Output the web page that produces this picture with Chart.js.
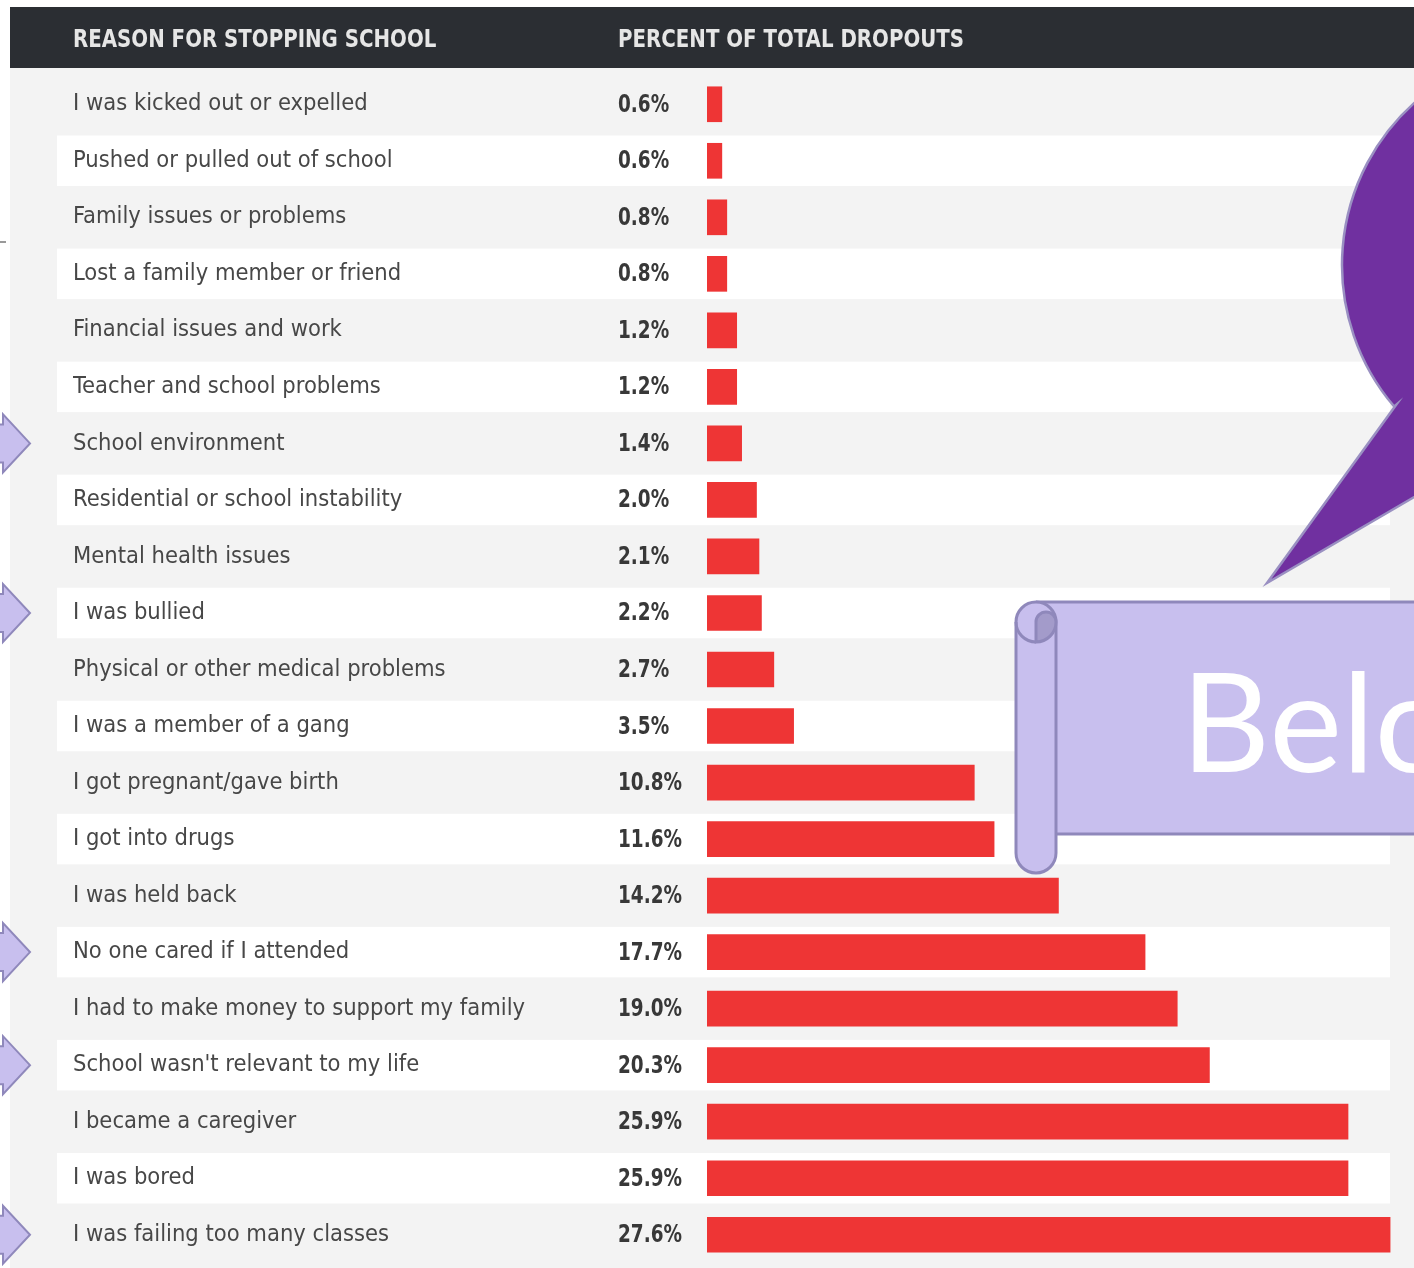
<!DOCTYPE html>
<html>
<head>
<meta charset="utf-8">
<script src="https://cdn.jsdelivr.net/npm/chart.js@4.4.1/dist/chart.umd.min.js"></script>
<style>
  html, body { margin: 0; padding: 0; background: #ffffff; }
  #wrap { width: 1414px; height: 1268px; position: relative; }
  canvas { display: block; }
</style>
</head>
<body>
<div id="wrap"><canvas id="c" width="1414" height="1268"></canvas></div>
<script>
// Reasons for leaving school and their share of all dropouts (%)
const reasons = [
  "I was kicked out or expelled",
  "Pushed or pulled out of school",
  "Family issues or problems",
  "Lost a family member or friend",
  "Financial issues and work",
  "Teacher and school problems",
  "School environment",
  "Residential or school instability",
  "Mental health issues",
  "I was bullied",
  "Physical or other medical problems",
  "I was a member of a gang",
  "I got pregnant/gave birth",
  "I got into drugs",
  "I was held back",
  "No one cared if I attended",
  "I had to make money to support my family",
  "School wasn't relevant to my life",
  "I became a caregiver",
  "I was bored",
  "I was failing too many classes"
];
const percents = [0.6, 0.6, 0.8, 0.8, 1.2, 1.2, 1.4, 2.0, 2.1, 2.2, 2.7, 3.5, 10.8, 11.6, 14.2, 17.7, 19.0, 20.3, 25.9, 25.9, 27.6];
const columnHeaders = ["REASON FOR STOPPING SCHOOL", "PERCENT OF TOTAL DROPOUTS"];
const calloutText = "Below";
// rows picked out with arrow markers
const highlighted = ["School environment", "I was bullied", "No one cared if I attended", "School wasn't relevant to my life", "I was failing too many classes"];

const NARROW = "'Liberation Sans Narrow', 'DejaVu Sans Condensed', 'Roboto', sans-serif";
const RED = '#ee3535';
const LAV = '#c8bfee';
const LAV_EDGE = '#8f88bb';

// draw text squeezed horizontally to imitate a condensed face
function condensedText(ctx, text, x, y, squeeze) {
  ctx.save();
  ctx.translate(x, y);
  ctx.scale(squeeze, 1);
  ctx.fillText(text, 0, 0);
  ctx.restore();
}

const tablePlugin = {
  id: 'tableBackground',
  beforeDraw(chart) {
    const ctx = chart.ctx;
    const y = chart.scales.y;
    const W = chart.width, H = chart.height;
    ctx.save();
    ctx.fillStyle = '#ffffff';
    ctx.fillRect(0, 0, W, H);
    ctx.fillStyle = '#f3f3f3';
    ctx.fillRect(10, 68, W - 10, H - 68);
    const pitch = y.getPixelForValue(1) - y.getPixelForValue(0);
    ctx.fillStyle = '#ffffff';
    reasons.forEach((r, i) => {
      if (i % 2 === 1) {
        const cy = y.getPixelForValue(i);
        ctx.fillRect(57, cy - pitch / 2 + 3, 1333, pitch - 6);
      }
    });
    // header band
    ctx.fillStyle = '#2b2e33';
    ctx.fillRect(10, 7, W - 10, 61);
    ctx.fillStyle = '#e6e6e6';
    ctx.font = 'bold 25px ' + NARROW;
    ctx.textBaseline = 'middle';
    ctx.textAlign = 'left';
    condensedText(ctx, columnHeaders[0], 73, 40, 0.88);
    condensedText(ctx, columnHeaders[1], 618, 40, 0.88);
    // small rule at the left edge
    ctx.strokeStyle = '#777';
    ctx.lineWidth = 1.5;
    ctx.beginPath(); ctx.moveTo(0, 242); ctx.lineTo(6, 242); ctx.stroke();
    ctx.restore();
  },
  afterDraw(chart) {
    const ctx = chart.ctx;
    const y = chart.scales.y;
    ctx.save();
    // value column
    ctx.fillStyle = '#383838';
    ctx.font = 'bold 25px ' + NARROW;
    ctx.textBaseline = 'middle';
    ctx.textAlign = 'left';
    percents.forEach((v, i) => {
      condensedText(ctx, v.toFixed(1) + '%', 618, y.getPixelForValue(i) + 1, 0.82);
    });

    // speech bubble
    const cx = 1560, cyb = 265, R = 218;
    const notch = [1396, 405], tip = [1267, 583];
    const a0 = Math.atan2(notch[1] - cyb, notch[0] - cx);
    ctx.beginPath();
    ctx.moveTo(tip[0], tip[1]);
    ctx.lineTo(notch[0], notch[1]);
    ctx.arc(cx, cyb, R, a0, a0 + Math.PI * 1.5, false);
    ctx.lineTo(1700, 330);
    ctx.closePath();
    ctx.fillStyle = '#7030a0';
    ctx.fill();
    ctx.strokeStyle = '#9a90c2';
    ctx.lineWidth = 2.5;
    ctx.stroke();

    // scroll banner
    ctx.lineWidth = 3;
    ctx.strokeStyle = LAV_EDGE;
    ctx.fillStyle = LAV;
    ctx.fillRect(1036, 602, 400, 232);
    ctx.beginPath();
    ctx.moveTo(1036, 602); ctx.lineTo(1420, 602);
    ctx.moveTo(1056, 834); ctx.lineTo(1420, 834);
    ctx.stroke();
    ctx.beginPath();
    ctx.moveTo(1016, 622);
    ctx.lineTo(1016, 853);
    ctx.arc(1036, 853, 20, Math.PI, 0, true);
    ctx.lineTo(1056, 622);
    ctx.arc(1036, 622, 20, 0, Math.PI, true);
    ctx.closePath();
    ctx.fill();
    ctx.stroke();
    ctx.beginPath();
    ctx.arc(1036, 622, 20, Math.PI / 2, Math.PI, false);
    ctx.stroke();
    ctx.beginPath();
    ctx.moveTo(1036, 622);
    ctx.arc(1046, 622, 10, Math.PI, Math.PI * 2, false);
    ctx.arc(1036, 622, 20, 0, Math.PI / 2, false);
    ctx.closePath();
    ctx.fillStyle = '#a39bca';
    ctx.fill();
    ctx.stroke();

    ctx.fillStyle = '#ffffff';
    ctx.font = '138px Lato, "Open Sans", sans-serif';
    ctx.textBaseline = 'alphabetic';
    ctx.textAlign = 'left';
    ctx.fillText(calloutText, 1181, 772);

    // arrow markers
    ctx.fillStyle = LAV;
    ctx.strokeStyle = LAV_EDGE;
    ctx.lineWidth = 2;
    highlighted.forEach(name => {
      const i = reasons.indexOf(name);
      const cy = y.getPixelForValue(i);
      ctx.beginPath();
      ctx.moveTo(-20, cy - 19);
      ctx.lineTo(3, cy - 19);
      ctx.lineTo(3, cy - 29);
      ctx.lineTo(30, cy);
      ctx.lineTo(3, cy + 29);
      ctx.lineTo(3, cy + 19);
      ctx.lineTo(-20, cy + 19);
      ctx.closePath();
      ctx.fill();
      ctx.stroke();
    });
    ctx.restore();
  }
};

new Chart(document.getElementById('c'), {
  type: 'bar',
  data: {
    labels: reasons,
    datasets: [{
      data: percents,
      backgroundColor: RED,
      borderWidth: 0,
      barThickness: 35
    }]
  },
  options: {
    indexAxis: 'y',
    responsive: false,
    animation: false,
    events: [],
    layout: { padding: { left: 73, top: 76, right: 14, bottom: 5 } },
    plugins: { legend: { display: false }, tooltip: { enabled: false } },
    scales: {
      x: { display: false, min: 0, max: 28 },
      y: {
        grid: { display: false },
        border: { display: false },
        ticks: {
          autoSkip: false,
          crossAlign: 'far',
          padding: 0,
          color: '#474747',
          font: { family: NARROW, size: 23.5 }
        },
        afterFit(scale) {
          scale.width = 634;
          scale.paddingTop = 0;
          scale.paddingBottom = 0;
        }
      }
    }
  },
  plugins: [tablePlugin]
});
</script>
</body>
</html>
